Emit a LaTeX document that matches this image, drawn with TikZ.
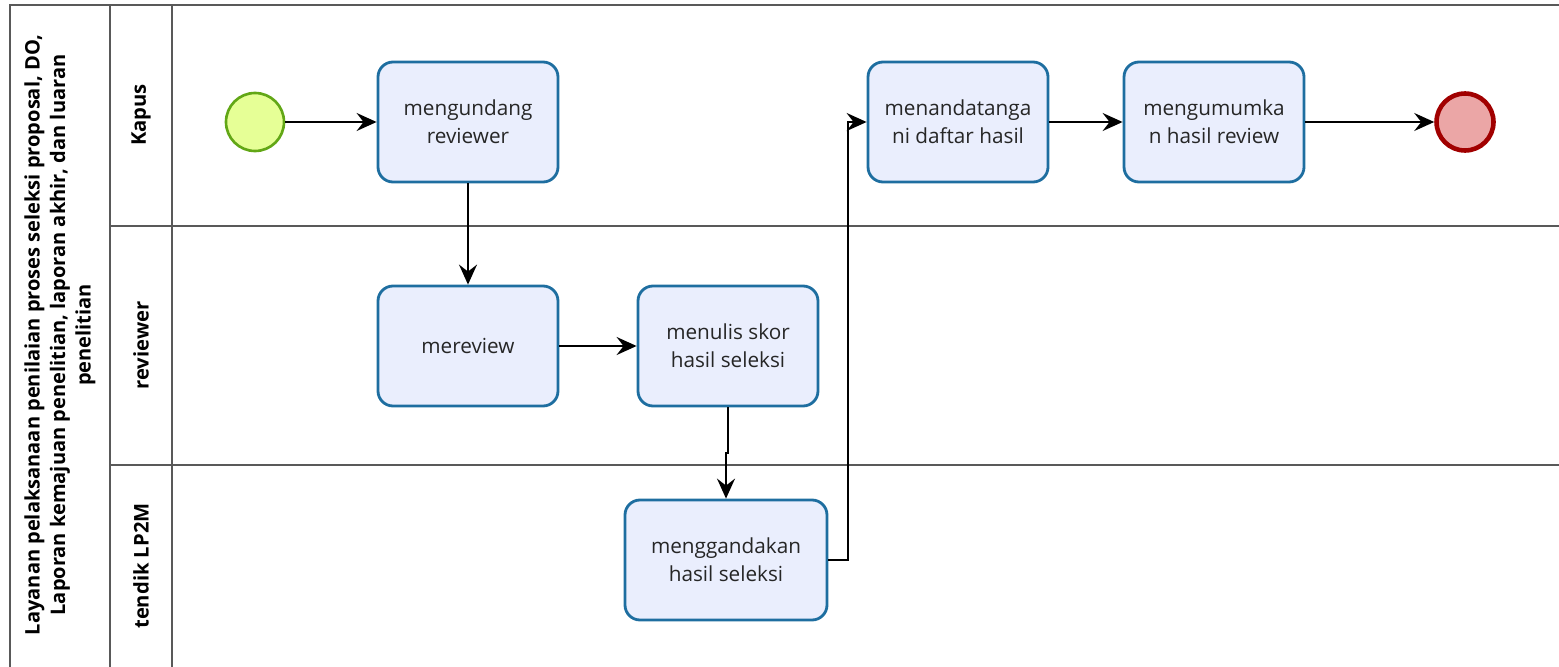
\documentclass[tikz,border=0pt]{standalone}
\usepackage{fontspec}
\setmainfont{Open Sans}
\usepackage{tikz}
\usetikzlibrary{shapes.geometric, arrows.meta}
\definecolor{taskfill}{RGB}{234,238,253}
\definecolor{taskline}{RGB}{30,110,160}
\definecolor{startfill}{RGB}{230,255,150}
\definecolor{startline}{RGB}{98,167,22}
\definecolor{endfill}{RGB}{235,166,166}
\definecolor{endline}{RGB}{161,0,0}

\begin{document}
\begin{tikzpicture}[node distance=4.26cm, every node/.style={font=\fontsize{11.8}{16}\selectfont}]
% Define styles
\tikzstyle{task} = [rectangle, rounded corners=0.3cm, minimum width=3.6cm, minimum height=2.4cm, align=center, draw=taskline, line width=1.6pt, fill=taskfill, text=black!85]
\tikzstyle{startev} = [circle, minimum size=1.16cm, draw=startline, line width=1.5pt, fill=startfill]
\tikzstyle{endev} = [circle, minimum size=1.14cm, draw=endline, line width=2.6pt, fill=endfill]
\tikzstyle{lanelabel} = [rotate=90, font=\bfseries\fontsize{11.5}{14}\selectfont]
\tikzstyle{lane} = [draw=black!65, line width=0.8pt]
\tikzstyle{arrow} = [line width=1.1pt, -{Stealth[length=4mm, width=3.6mm, inset=1.4mm]}]
% Pool and lanes
\useasboundingbox (0,0) rectangle (31.18,-13.34);
\draw [lane, line width=1.3pt] (0.2,-13.34) -- (0.2,-0.1) -- (31.18,-0.1);
\draw [lane] (2.2,-13.34) -- (2.2,-0.1);
\draw [lane] (3.44,-13.34) -- (3.44,-0.1);
\draw [lane] (2.2,-4.52) -- (31.18,-4.52);
\draw [lane] (2.2,-9.30) -- (31.18,-9.30);
\node (pool) [rotate=90, align=center, font=\bfseries\fontsize{11.4}{14.5}\selectfont] at (1.2,-6.7) {Layanan pelaksanaan penilaian proses seleksi proposal, DO,\\ Laporan kemajuan penelitian, laporan akhir, dan luaran\\ penelitian};
\node (kapus) [lanelabel] at (2.82,-2.3) {Kapus};
\node (reviewer) [lanelabel] at (2.82,-6.91) {reviewer};
\node (tendik) [lanelabel] at (2.82,-11.32) {tendik LP2M};
% Place nodes
\node (start) [startev] at (5.10,-2.44) {};
\node (invite) [task, right of=start] {mengundang\\reviewer};
\node (review) [task, below of=invite, yshift=-0.22cm] {mereview};
\node (score) [task, right of=review, xshift=0.94cm] {menulis skor\\hasil seleksi};
\node (copy) [task, below of=score, minimum width=4.04cm, xshift=-0.04cm, yshift=-0.02cm] {menggandakan\\hasil seleksi};
\node (sign) [task, right of=invite, xshift=5.54cm] {menandatanga\\ni daftar hasil};
\node (announce) [task, right of=sign, xshift=0.86cm] {mengumumka\\n hasil review};
\node (stop) [endev, right of=announce, xshift=0.76cm] {};
% Draw arrows
\draw [arrow] (start) -- (invite);
\draw [arrow] (invite) -- (review);
\draw [arrow] (review) -- (score);
\draw [arrow] (score.south) -- ++(0,-0.92) -| (copy.north);
\draw [arrow] (copy.east) -- ++(0.4,0) |- (sign.west);
\draw [arrow] (sign) -- (announce);
\draw [arrow] (announce) -- (stop);
\end{tikzpicture}
\end{document}
